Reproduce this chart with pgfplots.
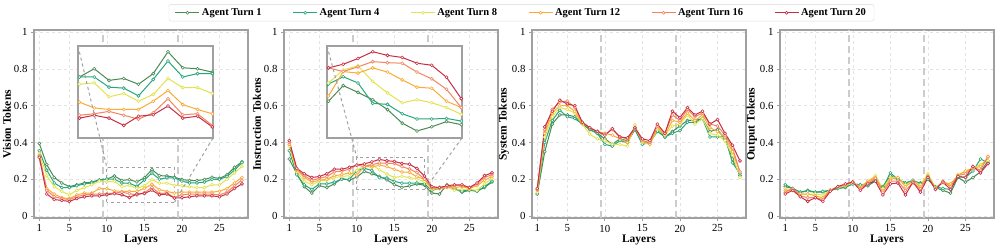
\documentclass[border=0pt]{standalone}
\usepackage{fontspec}
\setmainfont{Liberation Serif}
\usepackage{pgfplots}
\usepackage{pgfplotstable}
\pgfplotsset{compat=1.18}

\definecolor{cA}{HTML}{4A8A55}
\definecolor{cB}{HTML}{25A77A}
\definecolor{cC}{HTML}{E3E34E}
\definecolor{cD}{HTML}{FBAA36}
\definecolor{cE}{HTML}{F2855E}
\definecolor{cF}{HTML}{C92D45}
\definecolor{spine}{HTML}{A0A0A0}

\pgfplotstableread{
L t1 t4 t8 t12 t16 t20
1 0.395 0.355 0.340 0.330 0.325 0.320
2 0.280 0.250 0.220 0.150 0.140 0.120
3 0.210 0.180 0.160 0.120 0.105 0.090
4 0.180 0.155 0.135 0.100 0.095 0.085
5 0.160 0.155 0.115 0.095 0.090 0.080
6 0.170 0.165 0.140 0.115 0.105 0.095
7 0.180 0.175 0.155 0.125 0.115 0.105
8 0.185 0.180 0.170 0.125 0.120 0.110
9 0.197 0.195 0.190 0.150 0.120 0.110
10 0.201 0.201 0.186 0.149 0.122 0.116
11 0.218 0.201 0.189 0.137 0.125 0.122
12 0.194 0.180 0.160 0.134 0.130 0.116
13 0.198 0.178 0.167 0.134 0.122 0.101
14 0.186 0.162 0.151 0.134 0.114 0.120
15 0.208 0.196 0.165 0.151 0.127 0.123
16 0.253 0.234 0.198 0.173 0.156 0.141
17 0.220 0.201 0.179 0.144 0.123 0.116
18 0.218 0.208 0.179 0.134 0.125 0.120
19 0.211 0.208 0.167 0.125 0.101 0.098
20 0.199 0.190 0.165 0.130 0.115 0.100
21 0.193 0.180 0.160 0.130 0.120 0.105
22 0.193 0.180 0.155 0.130 0.120 0.110
23 0.199 0.185 0.155 0.130 0.120 0.110
24 0.211 0.200 0.170 0.130 0.120 0.110
25 0.205 0.200 0.170 0.135 0.115 0.105
26 0.224 0.215 0.200 0.150 0.130 0.120
27 0.265 0.250 0.235 0.180 0.165 0.150
28 0.295 0.290 0.270 0.210 0.195 0.175
}\vision

\pgfplotstableread{
L t1 t4 t8 t12 t16 t20
1 0.310 0.355 0.380 0.390 0.400 0.410
2 0.230 0.225 0.240 0.250 0.255 0.260
3 0.160 0.170 0.190 0.210 0.220 0.230
4 0.125 0.145 0.170 0.185 0.195 0.210
5 0.165 0.175 0.190 0.195 0.205 0.215
6 0.155 0.175 0.195 0.200 0.215 0.230
7 0.175 0.185 0.210 0.220 0.240 0.255
8 0.205 0.200 0.215 0.225 0.245 0.255
9 0.195 0.200 0.220 0.235 0.255 0.265
10 0.213 0.246 0.248 0.223 0.277 0.277
11 0.243 0.260 0.273 0.270 0.270 0.284
12 0.230 0.248 0.281 0.267 0.279 0.295
13 0.216 0.209 0.251 0.277 0.289 0.308
14 0.197 0.207 0.229 0.269 0.287 0.301
15 0.171 0.189 0.210 0.254 0.286 0.297
16 0.156 0.179 0.216 0.240 0.269 0.286
17 0.164 0.179 0.210 0.238 0.256 0.282
18 0.174 0.180 0.201 0.213 0.236 0.259
19 0.168 0.175 0.188 0.201 0.201 0.218
20 0.125 0.140 0.145 0.150 0.155 0.160
21 0.120 0.150 0.150 0.150 0.155 0.155
22 0.170 0.160 0.160 0.155 0.160 0.165
23 0.150 0.150 0.140 0.155 0.165 0.170
24 0.130 0.135 0.145 0.160 0.165 0.170
25 0.140 0.145 0.145 0.150 0.155 0.155
26 0.135 0.135 0.140 0.165 0.175 0.180
27 0.155 0.160 0.175 0.195 0.210 0.220
28 0.185 0.190 0.205 0.215 0.225 0.235
}\instr

\pgfplotstableread{
L t1 t4 t8 t12 t16 t20
1 0.120 0.120 0.130 0.140 0.145 0.150
2 0.350 0.400 0.430 0.450 0.470 0.485
3 0.500 0.520 0.540 0.560 0.580 0.570
4 0.550 0.575 0.590 0.600 0.620 0.630
5 0.550 0.540 0.580 0.600 0.625 0.610
6 0.540 0.530 0.560 0.570 0.590 0.600
7 0.505 0.500 0.500 0.505 0.510 0.510
8 0.470 0.470 0.445 0.480 0.480 0.480
9 0.450 0.450 0.420 0.460 0.460 0.460
10 0.420 0.390 0.410 0.450 0.445 0.440
11 0.390 0.380 0.390 0.440 0.470 0.475
12 0.420 0.410 0.390 0.420 0.430 0.430
13 0.410 0.400 0.380 0.400 0.420 0.425
14 0.470 0.470 0.495 0.480 0.475 0.480
15 0.400 0.390 0.400 0.410 0.410 0.420
16 0.400 0.400 0.390 0.390 0.400 0.410
17 0.470 0.460 0.470 0.480 0.490 0.500
18 0.430 0.430 0.440 0.440 0.450 0.450
19 0.460 0.450 0.490 0.520 0.550 0.570
20 0.490 0.465 0.500 0.510 0.520 0.535
21 0.520 0.510 0.550 0.560 0.580 0.590
22 0.520 0.510 0.500 0.520 0.540 0.550
23 0.530 0.530 0.530 0.550 0.560 0.570
24 0.460 0.430 0.450 0.480 0.500 0.500
25 0.470 0.430 0.440 0.460 0.490 0.525
26 0.420 0.430 0.410 0.430 0.440 0.450
27 0.310 0.290 0.330 0.350 0.370 0.385
28 0.220 0.230 0.210 0.240 0.240 0.300
}\system

\pgfplotstableread{
L t1 t4 t8 t12 t16 t20
1 0.160 0.170 0.150 0.140 0.130 0.120
2 0.150 0.150 0.140 0.140 0.150 0.140
3 0.130 0.130 0.120 0.120 0.110 0.105
4 0.140 0.135 0.120 0.120 0.100 0.080
5 0.130 0.130 0.120 0.110 0.100 0.100
6 0.130 0.135 0.115 0.100 0.090 0.080
7 0.140 0.140 0.140 0.140 0.140 0.135
8 0.150 0.150 0.155 0.160 0.160 0.160
9 0.155 0.160 0.165 0.170 0.170 0.175
10 0.175 0.175 0.180 0.185 0.185 0.185
11 0.170 0.170 0.160 0.155 0.150 0.140
12 0.165 0.175 0.190 0.190 0.180 0.175
13 0.190 0.195 0.220 0.210 0.205 0.190
14 0.160 0.155 0.150 0.140 0.130 0.115
15 0.220 0.235 0.210 0.200 0.190 0.175
16 0.200 0.200 0.210 0.210 0.190 0.180
17 0.180 0.180 0.170 0.160 0.140 0.115
18 0.190 0.195 0.190 0.190 0.180 0.185
19 0.180 0.175 0.170 0.160 0.150 0.130
20 0.200 0.200 0.230 0.220 0.215 0.210
21 0.155 0.160 0.155 0.150 0.150 0.145
22 0.140 0.150 0.180 0.185 0.190 0.185
23 0.125 0.145 0.165 0.175 0.160 0.145
24 0.210 0.215 0.225 0.220 0.220 0.215
25 0.185 0.210 0.245 0.245 0.230 0.210
26 0.210 0.245 0.260 0.260 0.265 0.270
27 0.240 0.310 0.280 0.270 0.250 0.235
28 0.300 0.290 0.300 0.320 0.325 0.285
}\output

\tikzset{boxst/.style={spine, dashed, line width=1.2pt}}

\pgfplotsset{
  ser/.style={line width=1.0pt, mark=*, mark size=1.5pt, mark options={fill=white, line width=0.6pt, solid}},
  mainax/.style={scale only axis, width=214pt, height=188pt, anchor=south west,
    xmin=0.3, xmax=28.8, ymin=-0.012, ymax=1.01,
    xtick={1,5,10,15,20,25}, ytick={0,0.2,0.4,0.6,0.8,1}, yticklabels={0,0.2,0.4,0.6,0.8,1},
    xmajorgrids, ymajorgrids, grid style={dashed, gray!22, line width=0.5pt},
    axis line style={spine, line width=1.6pt},
    major tick length=3pt, tick align=outside, xtick pos=bottom, ytick pos=left,
    tick style={spine, line width=0.8pt},
    ticklabel style={font=\fontsize{10.8}{12}\selectfont},
    /pgf/number format/assume math mode=true,
    xlabel={Layers}, label style={font=\bfseries\fontsize{11.5}{13}\selectfont},
    xlabel style={yshift=4pt}, ylabel style={yshift=-4pt}},
  insetax/.style={scale only axis, width=135pt, height=92pt, anchor=south west,
    xmin=9.9, xmax=19.05, xtick=\empty, ytick=\empty,
    axis line style={spine, line width=1.4pt}, axis background/.style={fill=white}},
  vlines/.style={forget plot, color=gray!40, line width=1.6pt, dash pattern=on 7pt off 4pt},
}

\newcommand{\series}[1]{%
  \addplot[ser, cA] table[x=L, y=t1] {#1};
  \addplot[ser, cB] table[x=L, y=t4] {#1};
  \addplot[ser, cC] table[x=L, y=t8] {#1};
  \addplot[ser, cD] table[x=L, y=t12] {#1};
  \addplot[ser, cE] table[x=L, y=t16] {#1};
  \addplot[ser, cF] table[x=L, y=t20] {#1};
}

\begin{document}
\begin{tikzpicture}
\useasboundingbox (0,0) rectangle (997pt,248pt);

% ---- Vision
\begin{axis}[mainax, at={(34pt,29.7pt)}, ylabel={Vision Tokens},
  legend columns=6,
  legend style={at={(2.278,1.093)}, anchor=center, draw=gray!30, rounded corners=2pt, fill=white,
    font=\bfseries\fontsize{10.5}{12}\selectfont, inner xsep=6pt, inner ysep=2pt,
    /tikz/every even column/.append style={column sep=29pt}},
  legend image code/.code={\draw[mark repeat=2, mark phase=2, #1] plot coordinates {(0pt,0pt) (12pt,0pt) (24pt,0pt)};},
  legend entries={Agent Turn 1, Agent Turn 4, Agent Turn 8, Agent Turn 12, Agent Turn 16, Agent Turn 20}]
\addplot[vlines] coordinates {(9.5,-0.012) (9.5,1.01)};
\addplot[vlines] coordinates {(19.5,-0.012) (19.5,1.01)};
\series{\vision}
\draw[boxst] (axis cs:10,0.075) rectangle (axis cs:19,0.265);
\coordinate (r1a) at (axis cs:10,0.265);
\coordinate (r1b) at (axis cs:19,0.075);
\end{axis}

% ---- Instruction
\begin{axis}[mainax, at={(284pt,29.7pt)}, ylabel={Instruction Tokens}]
\addplot[vlines] coordinates {(9.5,-0.012) (9.5,1.01)};
\addplot[vlines] coordinates {(19.5,-0.012) (19.5,1.01)};
\series{\instr}
\draw[boxst] (axis cs:10,0.1425) rectangle (axis cs:19,0.319);
\coordinate (r2a) at (axis cs:10,0.319);
\coordinate (r2b) at (axis cs:19,0.1425);
\end{axis}

% ---- System
\begin{axis}[mainax, at={(532pt,29.7pt)}, ylabel={System Tokens}]
\addplot[vlines] coordinates {(9.5,-0.012) (9.5,1.01)};
\addplot[vlines] coordinates {(19.5,-0.012) (19.5,1.01)};
\series{\system}
\end{axis}

% ---- Output
\begin{axis}[mainax, at={(780pt,29.7pt)}, ylabel={Output Tokens}]
\addplot[vlines] coordinates {(9.5,-0.012) (9.5,1.01)};
\addplot[vlines] coordinates {(19.5,-0.012) (19.5,1.01)};
\series{\output}
\end{axis}

% ---- Insets
\begin{axis}[insetax, at={(78pt,110pt)}, ymin=0.075, ymax=0.265]
\series{\vision}
\coordinate (i1a) at (rel axis cs:0,1);
\coordinate (i1b) at (rel axis cs:1,0);
\end{axis}

\begin{axis}[insetax, at={(327pt,110pt)}, ymin=0.1425, ymax=0.319]
\series{\instr}
\coordinate (i2a) at (rel axis cs:0,1);
\coordinate (i2b) at (rel axis cs:1,0);
\end{axis}

\draw[spine, dashed, line width=1pt] (i1a) -- (r1a);
\draw[spine, dashed, line width=1pt] (i1b) -- (r1b);
\draw[spine, dashed, line width=1pt] (i2a) -- (r2a);
\draw[spine, dashed, line width=1pt] (i2b) -- (r2b);
\end{tikzpicture}
\end{document}
